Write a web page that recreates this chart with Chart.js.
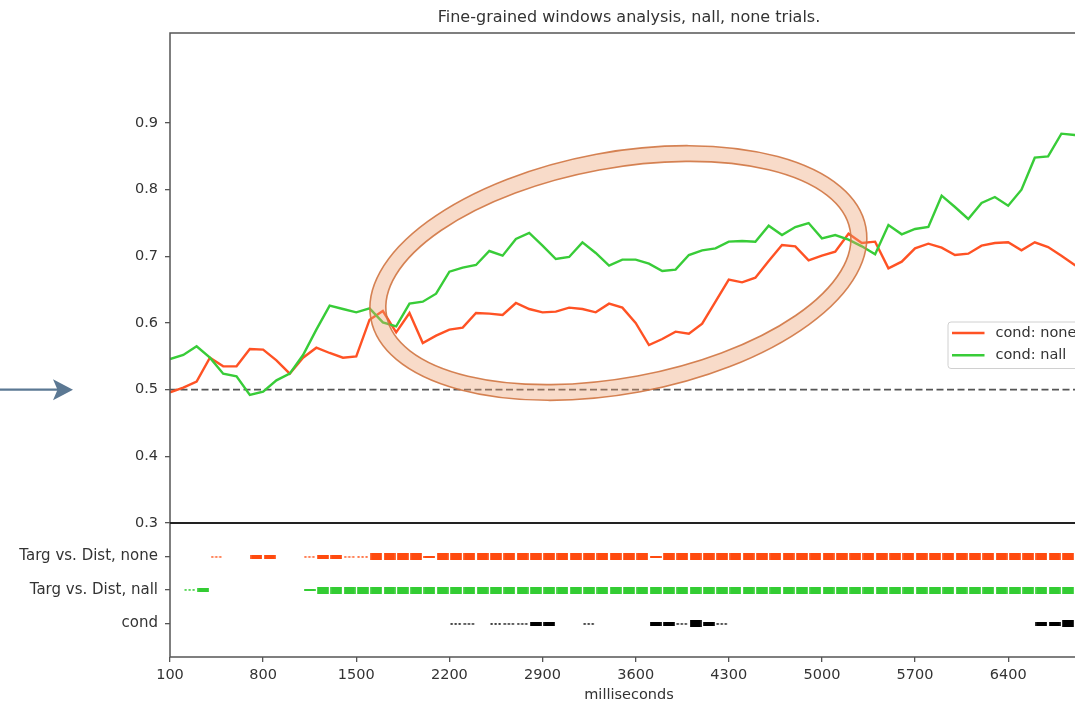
<!DOCTYPE html>
<html>
<head>
<meta charset="utf-8">
<title>Fine-grained windows analysis, nall, none trials.</title>
<script src="https://cdn.jsdelivr.net/npm/chart.js@4.4.1/dist/chart.umd.min.js"></script>
<style>
  html, body { margin: 0; padding: 0; background: #fff; overflow: hidden; }
  #wrap { position: relative; width: 1100px; height: 704px; }
</style>
</head>
<body>
<div id="wrap"><canvas id="chart" width="1100" height="704"></canvas></div>
<script>
// ---------- dados
const times = [100, 200, 300, 400, 500, 600, 700, 800, 900, 1000,
  1100, 1200, 1300, 1400, 1500, 1600, 1700, 1800, 1900, 2000,
  2100, 2200, 2300, 2400, 2500, 2600, 2700, 2800, 2900, 3000,
  3100, 3200, 3300, 3400, 3500, 3600, 3700, 3800, 3900, 4000,
  4100, 4200, 4300, 4400, 4500, 4600, 4700, 4800, 4900, 5000,
  5100, 5200, 5300, 5400, 5500, 5600, 5700, 5800, 5900, 6000,
  6100, 6200, 6300, 6400, 6500, 6600, 6700, 6800, 6900, 7000];

const accNone = [0.496, 0.503, 0.512, 0.548, 0.535, 0.535, 0.561, 0.560, 0.544, 0.524,
  0.548, 0.563, 0.555, 0.548, 0.550, 0.605, 0.618, 0.586, 0.615, 0.570,
  0.581, 0.590, 0.593, 0.615, 0.614, 0.612, 0.630, 0.621, 0.616, 0.617,
  0.623, 0.621, 0.616, 0.629, 0.623, 0.600, 0.567, 0.576, 0.587, 0.584,
  0.599, 0.632, 0.665, 0.661, 0.668, 0.693, 0.717, 0.715, 0.694, 0.701,
  0.707, 0.734, 0.720, 0.722, 0.682, 0.692, 0.712, 0.719, 0.713, 0.702,
  0.704, 0.716, 0.720, 0.721, 0.709, 0.721, 0.714, 0.701, 0.687, 0.675];

const accNall = [0.546, 0.552, 0.565, 0.548, 0.524, 0.520, 0.492, 0.497, 0.514, 0.524,
  0.552, 0.590, 0.626, 0.621, 0.616, 0.622, 0.601, 0.595, 0.629, 0.632,
  0.644, 0.677, 0.683, 0.687, 0.708, 0.701, 0.726, 0.735, 0.716, 0.696,
  0.699, 0.721, 0.705, 0.686, 0.695, 0.695, 0.689, 0.678, 0.680, 0.702,
  0.709, 0.712, 0.722, 0.723, 0.722, 0.746, 0.732, 0.744, 0.750, 0.727,
  0.732, 0.725, 0.715, 0.703, 0.747, 0.733, 0.741, 0.744, 0.791, 0.774,
  0.756, 0.780, 0.789, 0.776, 0.800, 0.848, 0.850, 0.884, 0.882, 0.878];

const chanceLevel = 0.5;

// significância por janela de 100 ms (0 = nada, 1 = pontilhado ... 4 = bloco cheio)
const sigNone = [0, 0, 0, 1, 0, 0, 3, 3, 0, 0,
  1, 3, 3, 1, 1, 4, 4, 4, 4, 2,
  4, 4, 4, 4, 4, 4, 4, 4, 4, 4,
  4, 4, 4, 4, 4, 4, 2, 4, 4, 4,
  4, 4, 4, 4, 4, 4, 4, 4, 4, 4,
  4, 4, 4, 4, 4, 4, 4, 4, 4, 4,
  4, 4, 4, 4, 4, 4, 4, 4, 4, 4];
const sigNall = [0, 1, 3, 0, 0, 0, 0, 0, 0, 0,
  2, 4, 4, 4, 4, 4, 4, 4, 4, 4,
  4, 4, 4, 4, 4, 4, 4, 4, 4, 4,
  4, 4, 4, 4, 4, 4, 4, 4, 4, 4,
  4, 4, 4, 4, 4, 4, 4, 4, 4, 4,
  4, 4, 4, 4, 4, 4, 4, 4, 4, 4,
  4, 4, 4, 4, 4, 4, 4, 4, 4, 4];
const sigCond = [0, 0, 0, 0, 0, 0, 0, 0, 0, 0,
  0, 0, 0, 0, 0, 0, 0, 0, 0, 0,
  0, 1, 1, 0, 1, 1, 1, 3, 3, 0,
  0, 1, 0, 0, 0, 0, 3, 3, 1, 4,
  3, 1, 0, 0, 0, 0, 0, 0, 0, 0,
  0, 0, 0, 0, 0, 0, 0, 0, 0, 0,
  0, 0, 0, 0, 0, 3, 3, 4, 4, 4];

const xTicks = [100, 800, 1500, 2200, 2900, 3600, 4300, 5000, 5700, 6400];
const yTicks = [0.3, 0.4, 0.5, 0.6, 0.7, 0.8, 0.9];
const rowLabels = ['Targ vs. Dist, none', 'Targ vs. Dist, nall', 'cond'];
const rowPos = [3, 2, 1];
const seriesNames = ['cond: none', 'cond: nall'];
const titleText = 'Fine-grained windows analysis, nall, none trials.';
const xTitle = 'milliseconds';

// ---------- estilos
const RED = '#ff5224';
const GREEN = '#38cc38';
const rowColors = ['#ff4a0e', '#33cc33', '#000000'];
const FONT = '"DejaVu Sans", sans-serif';
const BIN = 100;

Chart.defaults.font.family = FONT;
Chart.defaults.font.size = 14.5;
Chart.defaults.color = '#333';

// marcador (bloco) de cada nível de significância
function mark(color, level) {
  const h = [0, 2, 2, 4, 7][level];
  const c = document.createElement('canvas');
  c.width = 12; c.height = h;
  const g = c.getContext('2d');
  g.fillStyle = color;
  if (level === 1) {
    for (let i = 0; i < 3; i++) g.fillRect(0.5 + i * 4, 0.2, 2.2, 1.5);
  } else {
    g.fillRect(0.2, 0, 11.6, h);
  }
  return c;
}

const rasterSets = [];
[sigNone, sigNall, sigCond].forEach((sig, r) => {
  for (let lvl = 1; lvl <= 4; lvl++) {
    const pts = [];
    sig.forEach((s, i) => { if (s === lvl) pts.push({ x: times[i] + BIN / 2, y: rowPos[r] }); });
    if (!pts.length) continue;
    rasterSets.push({
      data: pts, yAxisID: 'yr', showLine: false,
      pointStyle: mark(rowColors[r], lvl), pointRadius: 4, order: 5
    });
  }
});

// elipse de destaque (anotação)
const highlight = { x: 3470, y: 0.675, rx: 243.7, ry: 112.8, angle: -10.5, band: 16 };

const decor = {
  id: 'decor',
  afterDatasetsDraw(chart) {
    const { ctx, scales: { x, y } } = chart;
    const e = highlight;
    const cx = x.getPixelForValue(e.x), cy = y.getPixelForValue(e.y);
    const rot = e.angle * Math.PI / 180;
    const o = e.band / 2;
    ctx.save();
    ctx.beginPath();
    ctx.ellipse(cx, cy, e.rx + o, e.ry + o, rot, 0, Math.PI * 2);
    ctx.moveTo(cx + (e.rx - o) * Math.cos(rot), cy + (e.rx - o) * Math.sin(rot));
    ctx.ellipse(cx, cy, e.rx - o, e.ry - o, rot, 0, Math.PI * 2);
    ctx.fillStyle = 'rgba(236,160,112,0.38)';
    ctx.fill('evenodd');
    ctx.lineWidth = 1.6;
    ctx.strokeStyle = 'rgba(208,118,66,0.9)';
    ctx.stroke();
    ctx.restore();
  },
  afterDraw(chart) {
    const { ctx, chartArea: a, scales: { y } } = chart;
    ctx.save();
    // molduras dos dois painéis
    ctx.strokeStyle = '#555';
    ctx.lineWidth = 1.5;
    ctx.strokeRect(a.left, a.top, a.right - a.left, a.bottom - a.top);
    ctx.beginPath();
    ctx.moveTo(a.left, y.bottom);
    ctx.lineTo(a.right, y.bottom);
    ctx.strokeStyle = '#222';
    ctx.lineWidth = 2;
    ctx.stroke();

    // título
    ctx.fillStyle = '#333';
    ctx.font = '16px ' + FONT;
    ctx.textAlign = 'center';
    ctx.textBaseline = 'middle';
    ctx.fillText(titleText, (a.left + a.right) / 2, 18);

    // seta apontando para o nível de chance
    const ay = y.getPixelForValue(chanceLevel);
    ctx.strokeStyle = '#5b7893';
    ctx.fillStyle = '#5b7893';
    ctx.lineWidth = 2.4;
    ctx.beginPath();
    ctx.moveTo(0, ay);
    ctx.lineTo(60, ay);
    ctx.stroke();
    ctx.beginPath();
    ctx.moveTo(73, ay);
    ctx.lineTo(53, ay - 10.5);
    ctx.lineTo(57.5, ay);
    ctx.lineTo(53, ay + 10.5);
    ctx.closePath();
    ctx.fill();

    // legenda
    const bx = a.right - 140, by = 322, bw = 133.5, bh = 46.5;
    ctx.beginPath();
    ctx.roundRect(bx, by, bw, bh, 3);
    ctx.fillStyle = 'rgba(255,255,255,0.85)';
    ctx.fill();
    ctx.strokeStyle = '#d0d0d0';
    ctx.lineWidth = 1;
    ctx.stroke();
    const cols = [RED, GREEN];
    seriesNames.forEach((name, i) => {
      const ly = by + 11 + i * 22.3;
      ctx.beginPath();
      ctx.moveTo(bx + 4, ly);
      ctx.lineTo(bx + 36.5, ly);
      ctx.strokeStyle = cols[i];
      ctx.lineWidth = 2.4;
      ctx.stroke();
      ctx.fillStyle = '#333';
      ctx.font = '14.5px ' + FONT;
      ctx.textAlign = 'left';
      ctx.textBaseline = 'middle';
      ctx.fillText(name, bx + 47.5, ly);
    });
    ctx.restore();
  }
};

const axisGrid = { drawOnChartArea: false, drawTicks: true, tickLength: 5, color: '#555', lineWidth: 1.3 };

new Chart(document.getElementById('chart'), {
  type: 'line',
  data: {
    datasets: [
      { label: seriesNames[1], data: times.map((t, i) => ({ x: t, y: accNall[i] })), borderColor: GREEN, borderWidth: 2.4, pointRadius: 0, yAxisID: 'y', order: 0 },
      { label: seriesNames[0], data: times.map((t, i) => ({ x: t, y: accNone[i] })), borderColor: RED, borderWidth: 2.4, pointRadius: 0, yAxisID: 'y', order: 1 },
      { label: 'chance', data: [{ x: times[0], y: chanceLevel }, { x: times[times.length - 1], y: chanceLevel }], borderColor: '#555', borderWidth: 1.7, borderDash: [7, 3.5], pointRadius: 0, yAxisID: 'y', order: 2 },
      ...rasterSets
    ]
  },
  options: {
    responsive: false,
    animation: false,
    events: [],
    layout: { padding: { top: 33, right: 12, left: 0, bottom: 0 } },
    plugins: { legend: { display: false }, tooltip: { enabled: false } },
    scales: {
      x: {
        type: 'linear', min: times[0], max: times[times.length - 1],
        afterBuildTicks: (s) => { s.ticks = xTicks.map(v => ({ value: v })); },
        afterFit: (s) => { s.height = 47; },
        grid: axisGrid,
        border: { display: false },
        ticks: { autoSkip: false, maxRotation: 0, padding: 5, callback: v => String(v) },
        title: { display: true, text: xTitle, padding: { top: 0, bottom: 0 } }
      },
      // painel de baixo definido antes: Chart.js empilha os eixos da esquerda em ordem inversa
      yr: {
        type: 'linear', position: 'left', stack: 'panels', stackWeight: 134,
        min: 0, max: 4,
        afterBuildTicks: (s) => { s.ticks = rowPos.map(v => ({ value: v })); },
        afterFit: (s) => { s.width = 170; },
        grid: axisGrid,
        border: { display: false },
        ticks: { autoSkip: false, padding: 7, font: { size: 15 }, callback: v => rowLabels[rowPos.indexOf(v)] }
      },
      y: {
        type: 'linear', position: 'left', stack: 'panels', stackWeight: 490,
        min: 0.3, max: 1.035,
        afterBuildTicks: (s) => { s.ticks = yTicks.map(v => ({ value: v })); },
        afterFit: (s) => { s.width = 170; },
        grid: axisGrid,
        border: { display: false },
        ticks: { autoSkip: false, padding: 7, callback: v => v.toFixed(1) }
      }
    }
  },
  plugins: [decor]
});
</script>
</body>
</html>
